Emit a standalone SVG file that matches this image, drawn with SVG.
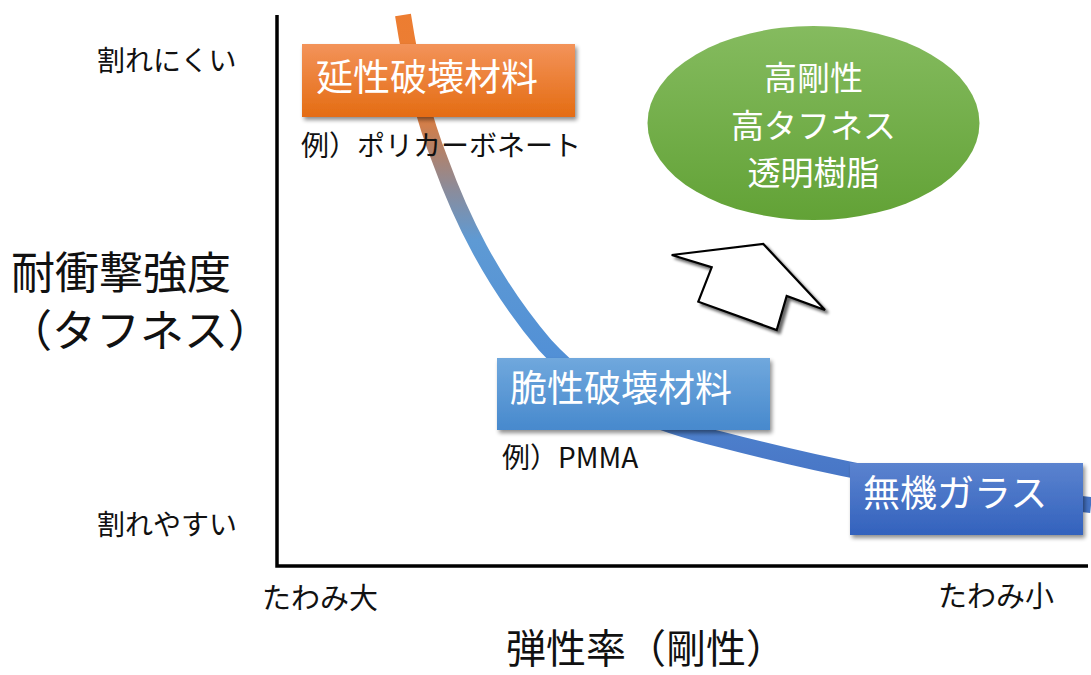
<svg xmlns="http://www.w3.org/2000/svg" width="1091" height="675" viewBox="0 0 1091 675">
<defs>
<style>
text{font-family:"Noto Sans CJK JP","Noto Sans",sans-serif;}
.lbl{fill:#111;}
.box{fill:#fff;}
.axis{stroke:#000;stroke-width:3.5;fill:none;}
</style>
<linearGradient id="gOrange" x1="0" y1="0" x2="0" y2="1"><stop offset="0" stop-color="#F3935A"/><stop offset="1" stop-color="#E46C12"/></linearGradient>
<linearGradient id="gBlue" x1="0" y1="0" x2="0" y2="1"><stop offset="0" stop-color="#70A8DD"/><stop offset="1" stop-color="#4789CD"/></linearGradient>
<linearGradient id="gGlass" x1="0" y1="0" x2="0" y2="1"><stop offset="0" stop-color="#5B83CF"/><stop offset="1" stop-color="#3362BD"/></linearGradient>
<linearGradient id="gGreen" x1="0" y1="0" x2="0" y2="1"><stop offset="0" stop-color="#85BB5F"/><stop offset="1" stop-color="#62A236"/></linearGradient>
<linearGradient id="gCurve" gradientUnits="userSpaceOnUse" x1="0" y1="15" x2="0" y2="505">
<stop offset="0" stop-color="#ED7D31"/>
<stop offset="0.19" stop-color="#E87E38"/>
<stop offset="0.265" stop-color="#B88062"/>
<stop offset="0.35" stop-color="#8E8B97"/>
<stop offset="0.46" stop-color="#5E9AD4"/>
<stop offset="0.70" stop-color="#5290D6"/>
<stop offset="0.91" stop-color="#4A79C8"/>
<stop offset="1" stop-color="#4472C4"/>
</linearGradient>
<filter id="shadow" x="-10%" y="-10%" width="125%" height="135%">
<feGaussianBlur in="SourceAlpha" stdDeviation="2"/>
<feOffset dx="1.5" dy="2.5" result="o"/>
<feComponentTransfer><feFuncA type="linear" slope="0.45"/></feComponentTransfer>
<feMerge><feMergeNode/><feMergeNode in="SourceGraphic"/></feMerge>
</filter>
<filter id="ashadow" x="-20%" y="-20%" width="150%" height="150%">
<feGaussianBlur in="SourceAlpha" stdDeviation="1.5"/>
<feOffset dx="2.5" dy="3" result="o"/>
<feComponentTransfer><feFuncA type="linear" slope="0.6"/></feComponentTransfer>
<feMerge><feMergeNode/><feMergeNode in="SourceGraphic"/></feMerge>
</filter>
</defs>
<rect width="1091" height="675" fill="#fff"/>

<g id="axes">
<path class="axis" d="M277,15 V566 H1088"/>
</g>

<g id="connectors">
<path id="curve" d="M403,15 C410,60 420,110 440,160 C460,215 490,280 545,345 C600,405 660,425 723,440 C800,460 900,485 1091,505" fill="none" stroke="url(#gCurve)" stroke-width="16"/>
<polygon id="arrow" points="671.7,255 763.3,244 825,310 786.7,296 776.7,330 698.3,301.7 711.7,267.3" fill="#fff" stroke="#000" stroke-width="2.2" stroke-linejoin="miter" filter="url(#ashadow)"/>
</g>

<g id="node-ductile">
<rect x="302" y="44" width="273" height="73" fill="url(#gOrange)" filter="url(#shadow)"/>
<text class="box" x="316" y="91" font-size="37">延性破壊材料</text>
</g>
<text id="ex-pc" class="lbl" x="301" y="156" font-size="28">例）ポリカーボネート</text>

<g id="node-brittle">
<rect x="497" y="358" width="273" height="72" fill="url(#gBlue)" filter="url(#shadow)"/>
<text class="box" x="510" y="402" font-size="37">脆性破壊材料</text>
</g>
<text id="ex-pmma" class="lbl" x="502" y="468" font-size="28">例）PMMA</text>

<g id="node-glass">
<rect x="850" y="463" width="233" height="72" fill="url(#gGlass)" filter="url(#shadow)"/>
<text class="box" x="863" y="507" font-size="37">無機ガラス</text>
</g>

<g id="node-goal">
<ellipse cx="813.5" cy="123" rx="166" ry="97" fill="url(#gGreen)"/>
<text class="box" x="813.5" y="90" font-size="33" text-anchor="middle">高剛性</text>
<text class="box" x="813.5" y="137.5" font-size="33" text-anchor="middle">高タフネス</text>
<text class="box" x="813.5" y="185" font-size="33" text-anchor="middle">透明樹脂</text>
</g>

<g id="labels">
<text class="lbl" x="97" y="71" font-size="28">割れにくい</text>
<text class="lbl" x="97" y="535" font-size="28">割れやすい</text>
<text class="lbl" x="11" y="289" font-size="44">耐衝撃強度</text>
<text class="lbl" x="8" y="347" font-size="44">（タフネス）</text>
<text class="lbl" x="262" y="609" font-size="29">たわみ大</text>
<text class="lbl" x="938" y="607" font-size="29">たわみ小</text>
<text class="lbl" x="506" y="663" font-size="40">弾性率（剛性）</text>
</g>
</svg>
